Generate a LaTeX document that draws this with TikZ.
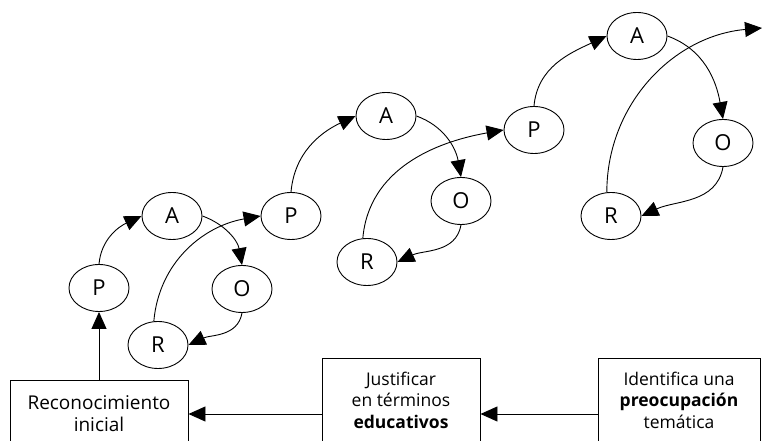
\documentclass[tikz,border=0pt]{standalone}
\usepackage{fontspec}
\setmainfont{Open Sans}
\usetikzlibrary{arrows.meta,shapes.geometric}
\tikzset{
    stage/.style={draw, ellipse, minimum width=60pt, minimum height=47pt, inner sep=0pt, font=\fontsize{22}{22}\selectfont},
    box/.style={draw, rectangle, align=center, inner sep=0pt, font=\fontsize{17.5}{21.5}\selectfont}
}
\begin{document}
\begin{tikzpicture}[x=1pt,y=1pt,>={Triangle[length=17pt,width=15pt]},line width=0.9pt]
\useasboundingbox (0,0) rectangle (762,441);
\clip (0,0) rectangle (762,441);
% boxes along the bottom
\node[box, minimum width=178pt, minimum height=68pt, font=\fontsize{19}{22}\selectfont] (recon) at (99,27) {Reconocimiento\\inicial};
\node[box, minimum width=158pt, minimum height=84pt] (justif) at (401,41) {Justificar\\en términos\\\textbf{educativos}};
\node[box, minimum width=162pt, minimum height=84pt] (ident) at (679,41) {Identifica una\\\textbf{preocupación}\\temática};
\draw[->] (ident.west|-0,27) -- (justif.east|-0,27);
\draw[->] (justif.west|-0,27) -- (recon.east|-0,27);
% stages of each cycle: P, A, O, R
\foreach \i/\px/\py/\ax/\ay/\ox/\oy/\rx/\ry in {%
  1/99/153/172/225/242/152/158/96,
  2/291/225/386/325/461/240/367/179,
  3/534/311/637/405/723/298/611/225} {%
\node[stage] (p\i) at (\px,\py) {P};
\node[stage] (a\i) at (\ax,\ay) {A};
\node[stage] (o\i) at (\ox,\oy) {O};
\node[stage] (r\i) at (\rx,\ry) {R};
\draw[->] (p\i.north) to[out=85,in=205] (a\i.west);
\draw[->] (a\i.east) to[out=-20,in=100] (o\i.north);
\draw[->] (o\i.south) to[out=-100,in=25] (r\i.east);
};
\coordinate (exit) at (762,413);
% links between cycles
\draw[->] (recon.north-|p1) -- (p1.south);
\draw[->] (r1.100) to[out=85,in=190] (p2.west);
\draw[->] (r2.100) to[out=85,in=190] (p3.west);
\draw[->] (r3.100) to[out=90,in=185] (exit);
\end{tikzpicture}
\end{document}
